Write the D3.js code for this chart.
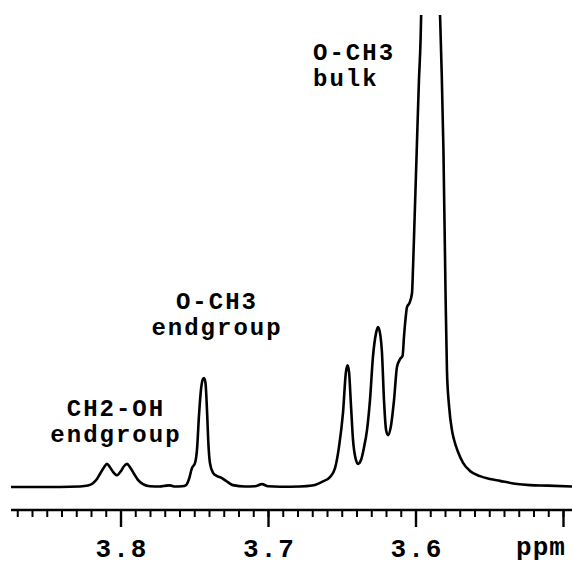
<!DOCTYPE html>
<html>
<head>
<meta charset="utf-8">
<script src="https://cdn.jsdelivr.net/npm/d3@7"></script>
<style>
  html, body { margin: 0; padding: 0; background: #fff; }
  svg text { font-family: "Liberation Mono", "Courier New", monospace; font-weight: bold; fill: #000; }
</style>
</head>
<body>
<div id="chart"></div>
<script>
// chemical shift (ppm) from left to right
const ppm = [
  3.8746, 3.8549, 3.8414, 3.8278, 3.8224, 3.8190, 3.8163, 3.8142, 3.8115, 3.8095,
  3.8075, 3.8054, 3.8027, 3.8000, 3.7980, 3.7959, 3.7939, 3.7912, 3.7885, 3.7851,
  3.7803, 3.7736, 3.7695, 3.7668, 3.7634, 3.7586, 3.7559, 3.7539, 3.7519, 3.7498,
  3.7485, 3.7471, 3.7458, 3.7444, 3.7437, 3.7427, 3.7417, 3.7407, 3.7397, 3.7376,
  3.7349, 3.7322, 3.7288, 3.7241, 3.7159, 3.7092, 3.7044, 3.7003, 3.6922, 3.6786,
  3.6705, 3.6637, 3.6583, 3.6549, 3.6522, 3.6495, 3.6475, 3.6464, 3.6454, 3.6441,
  3.6427, 3.6410, 3.6393, 3.6373, 3.6353, 3.6332, 3.6312, 3.6292, 3.6271, 3.6258,
  3.6244, 3.6231, 3.6217, 3.6203, 3.6190, 3.6169, 3.6149, 3.6129, 3.6108, 3.6091,
  3.6081, 3.6071, 3.6061, 3.6044, 3.6027, 3.6020, 3.6012, 3.5995, 3.5980, 3.5969,
  3.5965, 3.5939, 3.5898, 3.5858, 3.5837, 3.5826, 3.5814, 3.5800, 3.5790, 3.5776,
  3.5756, 3.5742, 3.5715, 3.5681, 3.5634, 3.5566, 3.5498, 3.5431, 3.5329, 3.5227,
  3.5105, 3.4942
];
// intensity, % of the clipped plot height above the baseline
const intensity = [
  0.0, 0.0, 0.0, 0.1, 0.3, 0.8, 1.7, 2.8, 4.2, 4.9,
  4.2, 3.2, 2.5, 3.4, 4.4, 4.9, 4.2, 2.8, 1.5, 0.6,
  0.15, 0.1, 0.3, 0.35, 0.1, 0.15, 0.4, 1.7, 4.0, 5.1,
  7.8, 15.3, 20.6, 22.9, 23.1, 22.0, 16.3, 8.9, 5.1, 3.0,
  2.3, 2.0, 1.3, 0.4, 0.1, 0.15, 0.6, 0.15, 0.05, 0.1,
  0.3, 1.1, 2.1, 4.0, 8.5, 15.7, 24.4, 25.8, 24.4, 17.4,
  10.0, 6.1, 4.9, 5.7, 8.3, 12.1, 18.4, 27.5, 32.6, 33.9,
  32.6, 28.6, 18.4, 12.1, 11.0, 13.1, 18.4, 25.4, 27.1, 27.8,
  32.0, 35.6, 38.1, 39.0, 41.1, 46.6, 54.4, 71.4, 86.2, 94.7,
  100.0, 130.0, 150.0, 130.0, 100.0, 88.0, 71.4, 41.7, 24.5, 17.2,
  12.0, 10.0, 7.4, 5.1, 3.4, 2.3, 1.7, 1.3, 0.7, 0.4,
  0.3, 0.1
];
const majorTicks = [3.8, 3.7, 3.6, 3.5];
const tickLabels = ['3.8', '3.7', '3.6'];
const axisTitle = 'ppm';
const bulkLabel = ['O-CH3', 'bulk'];
const endLabel = ['O-CH3', 'endgroup'];
const hydroxylLabel = ['CH2-OH', 'endgroup'];

const W = 572, H = 565;

const x = d3.scaleLinear().domain([3.8, 3.6]).range([121, 416]);
const y = d3.scaleLinear().domain([0, 100]).range([487, 15]);
const left = x.invert(11), right = x.invert(W);

const svg = d3.select('#chart').append('svg')
  .attr('width', W)
  .attr('height', H);

svg.append('clipPath')
  .attr('id', 'clip')
  .append('rect')
  .attr('x', 0)
  .attr('y', y(100))
  .attr('width', W)
  .attr('height', H);

const line = d3.line()
  .x(d => x(d[0]))
  .y(d => y(d[1]))
  .curve(d3.curveMonotoneX);

// spectrum
svg.append('path')
  .attr('d', line(ppm.map((p, i) => [p, intensity[i]])))
  .attr('clip-path', 'url(#clip)')
  .attr('fill', 'none')
  .attr('stroke', '#000')
  .attr('stroke-width', 2.6)
  .attr('stroke-linejoin', 'round');

// axis
const axisY = 510;
const g = svg.append('g');
g.append('line')
  .attr('x1', x(left)).attr('x2', W)
  .attr('y1', axisY).attr('y2', axisY)
  .attr('stroke', '#000')
  .attr('stroke-width', 2.6);

const minor = d3.range(Math.ceil(right * 100), Math.floor(left * 100) + 1).map(v => v / 100);
g.selectAll('.minor')
  .data(minor)
  .enter().append('line')
  .attr('x1', d => x(d)).attr('x2', d => x(d))
  .attr('y1', axisY).attr('y2', axisY + 7)
  .attr('stroke', '#000')
  .attr('stroke-width', 2);

g.selectAll('.major')
  .data(majorTicks)
  .enter().append('line')
  .attr('x1', d => x(d)).attr('x2', d => x(d))
  .attr('y1', axisY).attr('y2', axisY + 17)
  .attr('stroke', '#000')
  .attr('stroke-width', 2.4);

g.selectAll('.tick-label')
  .data(tickLabels)
  .enter().append('text')
  .attr('x', d => x(+d) + 1)
  .attr('y', 557)
  .attr('text-anchor', 'middle')
  .attr('font-size', 26)
  .attr('letter-spacing', 2)
  .text(d => d);

g.append('text')
  .attr('x', 541)
  .attr('y', 555)
  .attr('text-anchor', 'middle')
  .attr('font-size', 26)
  .attr('letter-spacing', 1)
  .text(axisTitle);

// peak labels
function label(lines, px, py, anchor) {
  const t = svg.append('text')
    .attr('font-size', 24)
    .attr('letter-spacing', 2)
    .attr('text-anchor', anchor);
  lines.forEach((s, i) => {
    t.append('tspan')
      .attr('x', anchor === 'middle' ? px + 1 : px)
      .attr('y', py + i * 26)
      .text(s);
  });
}
label(bulkLabel, x(3.6698), 60, 'start');
label(endLabel, x(3.7356), 309, 'middle');
label(hydroxylLabel, x(3.8041), 416, 'middle');
</script>
</body>
</html>
